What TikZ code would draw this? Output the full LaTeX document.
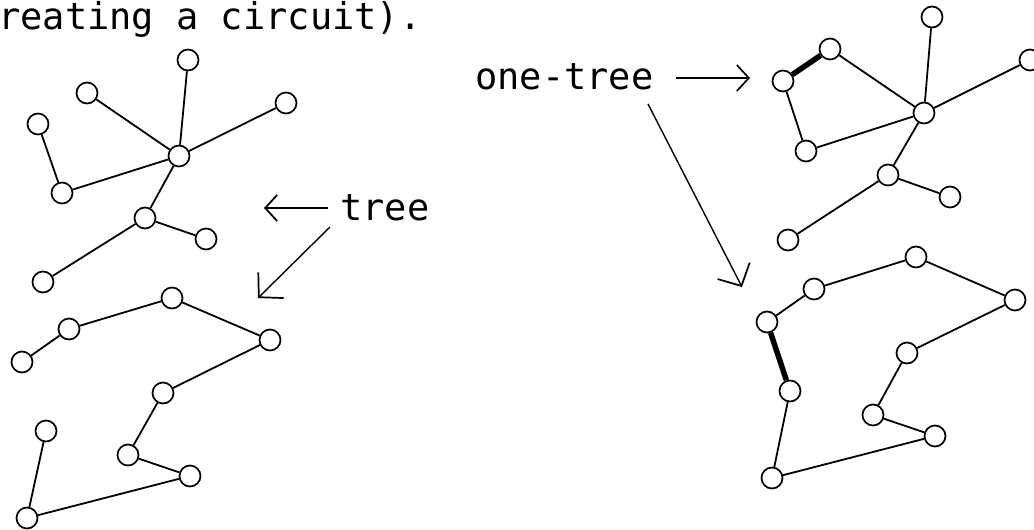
\documentclass[tikz,border=0pt]{standalone}
\usepackage{fontspec}
\newfontfamily\monaco{DejaVu Sans Mono}
\usetikzlibrary{arrows.meta}
\begin{document}
\begin{tikzpicture}[x=1pt,y=-1pt,
  vtx/.style={circle,draw,line width=1.7pt,minimum size=21pt,inner sep=0pt,fill=white},
  edge/.style={line width=1.8pt},
  boldedge/.style={line width=5.5pt},
  lbl/.style={font=\monaco\fontsize{37}{40}\selectfont,inner sep=0pt,anchor=base west},
  pointer/.style={line width=1.4pt,-{Straight Barb[length=12pt,width=26pt,line width=1.7pt]}},
  longpointer/.style={line width=1.4pt,-{Straight Barb[length=17pt,width=36pt,line width=1.7pt]}}]
\useasboundingbox (0,0) rectangle (1034,530);
% ---------- labels ----------
\node[lbl] (toptext) at (-2,30) {reating a circuit).};
\node[lbl] (treelbl) at (340,220) {tree};
\node[lbl] (onetree) at (475,89) {one-tree};
\coordinate (tA0) at (328,208); \coordinate (tA1) at (264,208);
\coordinate (tB0) at (330,227); \coordinate (tB1) at (258,298);
\coordinate (oA0) at (676,78);  \coordinate (oA1) at (750,78);
\coordinate (oB0) at (648,104); \coordinate (oB1) at (742,287);
\draw[pointer] (tA0) -- (tA1);
\draw[longpointer] (tB0) -- (tB1);
\draw[pointer] (oA0) -- (oA1);
\draw[longpointer] (oB0) -- (oB1);
% ---------- left tree (top) ----------
\node[vtx] (a1) at (188,60) {};
\node[vtx] (a2) at (87,93) {};
\node[vtx] (a3) at (38,124) {};
\node[vtx] (a4) at (286,103) {};
\node[vtx] (c)  at (179,156) {};
\node[vtx] (a5) at (62,193) {};
\node[vtx] (b)  at (145,218) {};
\node[vtx] (a6) at (206,239) {};
\node[vtx] (a7) at (43,282) {};
\draw[edge] (a1)--(c) (a2)--(c) (a4)--(c) (a5)--(c) (a3)--(a5) (c)--(b) (b)--(a6) (b)--(a7);
% ---------- left tree (bottom) ----------
\node[vtx] (d1) at (22,362) {};
\node[vtx] (d2) at (69,329) {};
\node[vtx] (d3) at (172,298) {};
\node[vtx] (d4) at (270,340) {};
\node[vtx] (d5) at (163,393) {};
\node[vtx] (d6) at (128,455) {};
\node[vtx] (d7) at (190,476) {};
\node[vtx] (d8) at (27,518) {};
\node[vtx] (d9) at (46,431) {};
\draw[edge] (d1)--(d2)--(d3)--(d4)--(d5)--(d6)--(d7)--(d8)--(d9);
% ---------- right one-tree (top) ----------
\node[vtx] (e1) at (932,17) {};
\node[vtx] (e2) at (830,49) {};
\node[vtx] (e3) at (783,81) {};
\node[vtx] (e4) at (1030,60) {};
\node[vtx] (f)  at (924,113) {};
\node[vtx] (e5) at (806,151) {};
\node[vtx] (g)  at (888,175) {};
\node[vtx] (e6) at (950,197) {};
\node[vtx] (e7) at (788,240) {};
\draw[edge] (e1)--(f) (e2)--(f) (e4)--(f) (e5)--(f) (e3)--(e5) (f)--(g) (g)--(e6) (g)--(e7);
\draw[boldedge] (e3)--(e2);
% ---------- right one-tree (bottom) ----------
\node[vtx] (h1) at (767,322) {};
\node[vtx] (h2) at (814,289) {};
\node[vtx] (h3) at (916,257) {};
\node[vtx] (h4) at (1015,300) {};
\node[vtx] (h5) at (907,353) {};
\node[vtx] (h6) at (873,415) {};
\node[vtx] (h7) at (935,436) {};
\node[vtx] (h8) at (772,478) {};
\node[vtx] (h9) at (790,391) {};
\draw[edge] (h1)--(h2)--(h3)--(h4)--(h5)--(h6)--(h7)--(h8)--(h9);
\draw[boldedge] (h9)--(h1);
\end{tikzpicture}
\end{document}
